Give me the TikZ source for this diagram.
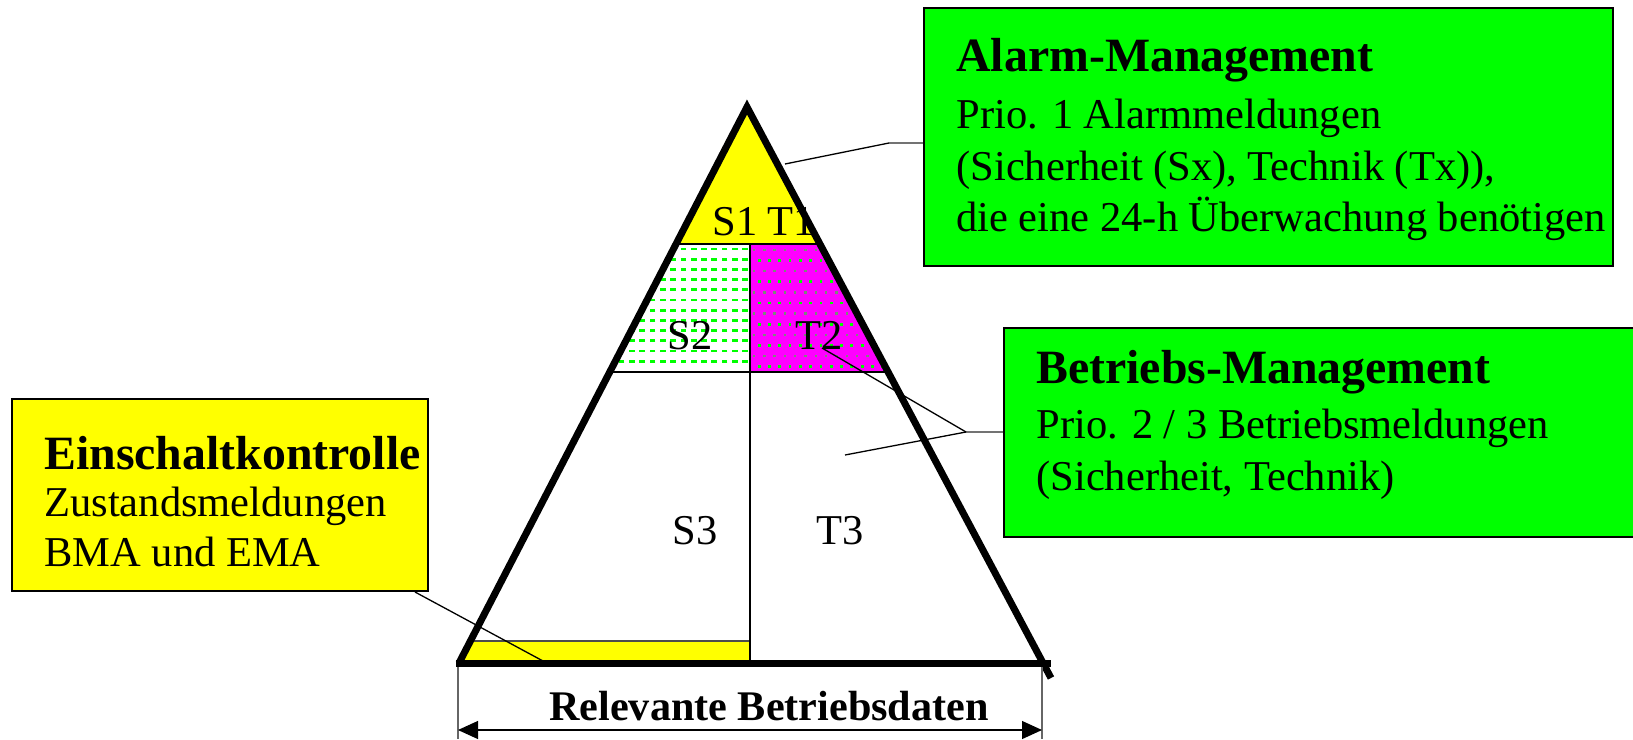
\documentclass[tikz,border=0pt]{standalone}
\usepackage{fontspec}
\setmainfont{Liberation Serif}
\usetikzlibrary{arrows.meta,calc}
\definecolor{vgreen}{RGB}{0,255,0}
\definecolor{vyellow}{RGB}{255,255,0}
\definecolor{vmagenta}{RGB}{255,0,255}
\definecolor{dotgray}{RGB}{120,140,120}
\begin{document}
\begin{tikzpicture}[x=0.5pt,y=-0.5pt,
  box/.style={draw=black, line width=1pt, inner sep=0pt},
  body/.style={anchor=base west, inner sep=0pt, font=\fontsize{21.25pt}{25pt}\selectfont},
  title/.style={anchor=base west, inner sep=0pt, font=\fontsize{23.9pt}{28pt}\selectfont\bfseries},
  lbl/.style={anchor=base west, inner sep=0pt, font=\fontsize{21.25pt}{25pt}\selectfont},
  edge/.style={line width=3.5pt, line cap=butt},
  lead/.style={line width=0.65pt, black},
  leadgray/.style={line width=0.8pt, black!55},
  thin/.style={line width=0.7pt, black},
  dim/.style={line width=0.6pt, black!60}]
\useasboundingbox (0,0) rectangle (1633,739);
\fill[white] (0,0) rectangle (1633,739);

% triangle corners
\coordinate (apex) at (747,107);
\coordinate (bl) at (459,663);
\coordinate (br) at (1043,663);
\coordinate (brx) at (1051,678);
\coordinate (blx) at (456,663);

% fills clipped to triangle
\begin{scope}
  \clip (apex) -- (bl) -- (br) -- cycle;
  \fill[vyellow] (400,90) rectangle (1100,244);
  \fill[vmagenta] (750,244) rectangle (1100,372);
  \fill[vyellow] (400,641) rectangle (750,663);
  % S2 dashed pattern
  \begin{scope}
    \clip (400,244) rectangle (749,372);
    \foreach \r in {0,...,11} {
      \draw[vgreen, line width=1.4pt, dash pattern=on 2.85pt off 2.3pt] (748,{249+\r*10.2}) -- (580,{249+\r*10.2});
    }
  \end{scope}
  % T2 dot pattern
  \begin{scope}
    \clip (751,245) rectangle (1100,371);
    \foreach \r in {0,...,11} {
      \foreach \c in {0,...,14} {
        \pgfmathsetmacro{\xx}{754+\c*10.3+mod(\r,2)*5.1}
        \pgfmathsetmacro{\yy}{250+\r*10.6}
        \ifodd\r
          \fill[vgreen] (\xx-1.4,\yy-1.4) rectangle (\xx+1.4,\yy+1.4);
        \else
          \fill[dotgray] (\xx-1.2,\yy-1.2) rectangle (\xx+1.2,\yy+1.2);
        \fi
      }
    }
  \end{scope}
  % divider lines
  \draw[thin] (400,244) -- (1100,244);
  \draw[thin] (400,372) -- (1100,372);
  \draw[thin, black!70] (400,641) -- (750,641);
  \draw[thin] (750,244) -- (750,663);
\end{scope}

% region labels
\node[lbl] (s1t1) at (712,235) {S1 T1};
\node[lbl] (s2) at (667,349) {S2};
\node[lbl] (t2) at (795,349) {T2};
\node[lbl] (s3) at (672,544) {S3};
\node[lbl] (t3) at (816,544) {T3};

% thick triangle edges
\draw[edge, line join=miter] (bl) -- (apex) -- (brx);
\draw[edge] (blx) -- (br) -- ++(8,0);

% boxes
\node[box, fill=vgreen, anchor=north west, minimum width=344.5pt, minimum height=129pt] (alarm) at (923,7) {};
\node[box, fill=vgreen, anchor=north west, minimum width=321pt, minimum height=104.5pt] (betr) at (1003,327) {};
\node[box, fill=vyellow, anchor=north west, minimum width=208pt, minimum height=96pt] (ein) at (11,398) {};

% box texts
\node[title] (a0) at (956,71) {Alarm-Management};
\node[body] (a1) at (956,128) {Prio. 1 Alarmmeldungen};
\node[body] (a2) at (956,180) {(Sicherheit (Sx), Technik (Tx)),};
\node[body] (a3) at (956,231) {die eine 24-h Überwachung benötigen};

\node[title] (b0) at (1036,383) {Betriebs-Management};
\node[body] (b1) at (1036,438) {Prio. 2 / 3 Betriebsmeldungen};
\node[body] (b2) at (1036,490) {(Sicherheit, Technik)};

\node[title] (e0) at (44,469) {Einschaltkontrolle};
\node[body] (e1) at (44,516) {Zustandsmeldungen};
\node[body] (e2) at (44,566) {BMA und EMA};

% leaders
\coordinate (j1) at (889,143);
\coordinate (e1end) at (785,164);
\draw[leadgray] (j1 -| alarm.west) -- (j1);
\draw[lead] (j1) -- (e1end);

\coordinate (j2) at (966,432);
\coordinate (p2a) at (845,455);
\coordinate (p2b) at (822,348);
\draw[leadgray] (j2 -| betr.west) -- (j2);
\draw[lead] (j2) -- (p2a);
\draw[lead] (j2) -- (p2b);

\coordinate (p3) at (543,661);
\draw[lead] ([xshift=-7pt]ein.south east) -- (p3);

% dimension
\coordinate (dl) at (458,730);
\coordinate (dr) at (1042,730);
\draw[dim] (458,667) -- (458,739);
\draw[dim] (1042,667) -- (1042,739);
\draw[line width=0.6pt, {Triangle[length=10pt,width=9pt]}-{Triangle[length=10pt,width=9pt]}] (dl) -- (dr);
\node[anchor=base, inner sep=0pt, font=\fontsize{21.1pt}{25pt}\selectfont\bfseries] (rel) at (769,720) {Relevante Betriebsdaten};
\end{tikzpicture}
\end{document}
